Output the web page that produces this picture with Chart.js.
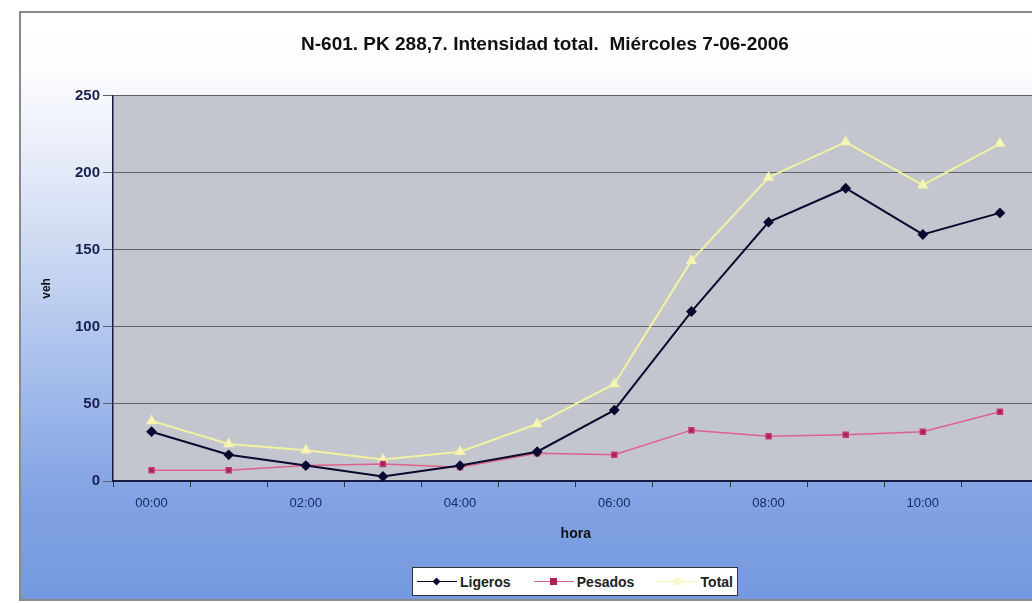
<!DOCTYPE html>
<html>
<head>
<meta charset="utf-8">
<script src="https://cdn.jsdelivr.net/npm/chart.js@4/dist/chart.umd.min.js"></script>
<style>
    html, body { margin: 0; padding: 0; background: #fff; overflow: hidden; width: 1032px; height: 603px; }
    #frame {
        position: absolute; left: 19px; top: 11px; width: 1040px; height: 586px;
        border: 2px solid #8a8a8a; border-right: none;
        background: linear-gradient(to bottom, #ffffff 0%, #fdfdff 10%, #d6e0f4 35%, #a9c0ec 60%, #82a3e4 82%, #7599e0 100%);
    }
    #chartWrap { position: absolute; left: 0; top: 0; width: 1045px; height: 603px; }
    #legend {
        position: absolute; left: 412px; top: 567px; width: 326px; height: 29px;
        background: #fff; border: 1px solid #333; box-sizing: border-box;
        font: bold 14px "Liberation Sans", Arial, sans-serif; color: #222;
        display: flex; align-items: center; justify-content: space-between; padding: 0 4px;
    }
    .item { display: flex; align-items: center; gap: 3px; }
    .sym { position: relative; width: 40px; height: 10px; }
    .sym .ln { position: absolute; left: 0; right: 0; top: 4px; height: 0; border-top: 1.5px solid; }
    .sym .mk { position: absolute; left: 16px; top: 1px; width: 7px; height: 7px; }
</style>
</head>
<body>
<div id="frame"></div>
<div id="chartWrap"><canvas id="chartIntensidad" width="1045" height="603"></canvas></div>
<div id="legend">
    <div class="item"><div class="sym"><div class="ln" style="border-color:#0a0a30"></div><div class="mk" style="background:#0a0a30;transform:rotate(45deg) scale(0.8)"></div></div>Ligeros</div>
    <div class="item"><div class="sym"><div class="ln" style="border-color:#e0608c"></div><div class="mk" style="background:#a8205a"></div></div>Pesados</div>
    <div class="item"><div class="sym"><div class="ln" style="border-color:#f6f6b0"></div><div class="mk" style="background:#fafac8"></div></div>Total</div>
</div>
<script>
// ===== Datos =====
const horas = ['00:00', '01:00', '02:00', '03:00', '04:00', '05:00', '06:00', '07:00', '08:00', '09:00', '10:00', '11:00'];
const ligeros = [32, 17, 10, 3, 10, 19, 46, 110, 168, 190, 160, 174];
const pesados = [7, 7, 10, 11, 9, 18, 17, 33, 29, 30, 32, 45];
const total = [39, 24, 20, 14, 19, 37, 63, 143, 197, 220, 192, 219];
const ticksY = [0, 50, 100, 150, 200, 250];

const fuente = '"Liberation Sans", Arial, sans-serif';

// fondo gris del area de trazado
const plotBg = {
    id: 'plotBg',
    beforeDraw(chart) {
        const a = chart.chartArea;
        const c = chart.ctx;
        c.save();
        c.fillStyle = '#c3c6ce';
        c.fillRect(a.left, a.top, a.right - a.left, a.bottom - a.top);
        c.restore();
    }
};

const ctx = document.getElementById('chartIntensidad');
new Chart(ctx, {
    type: 'line',
    data: {
        labels: horas,
        datasets: [
            {
                label: 'Ligeros', data: ligeros,
                borderColor: '#0a0a30', backgroundColor: '#0a0a30', borderWidth: 2,
                pointStyle: 'rectRot', pointRadius: 4, tension: 0
            },
            {
                label: 'Pesados', data: pesados,
                borderColor: '#e0608c', backgroundColor: '#a8205a', borderWidth: 1.5,
                pointStyle: 'rect', pointRadius: 3.5, pointBorderColor: '#c03a70', tension: 0
            },
            {
                label: 'Total', data: total,
                borderColor: '#f2f2a0', backgroundColor: '#f8f8b8', borderWidth: 2,
                pointStyle: 'triangle', pointRadius: 4.5, pointBorderColor: '#f4f4b0', tension: 0
            }
        ]
    },
    options: {
        responsive: false,
        animation: false,
        layout: { padding: { left: 45, right: 0, top: 33, bottom: 58 } },
        plugins: {
            legend: { display: false },
            tooltip: { enabled: false },
            title: {
                display: true,
                text: 'N-601. PK 288,7. Intensidad total.  Miércoles 7-06-2006',
                color: '#111',
                font: { family: fuente, size: 19, weight: 'bold' },
                padding: { top: 0, bottom: 40 }
            }
        },
        scales: {
            x: {
                offset: true,
                grid: { offset: true, drawOnChartArea: false, color: '#333', tickLength: 6 },
                border: { color: '#1a1a40', width: 2 },
                ticks: {
                    autoSkip: false, maxRotation: 0, color: '#1a2a60', padding: 9,
                    font: { family: fuente, size: 13 },
                    callback: function (v, i) { return i % 2 === 0 ? horas[i] : ''; }
                },
                title: {
                    display: true, text: 'hora', color: '#111',
                    font: { family: fuente, size: 14, weight: 'bold' },
                    padding: { top: 4, bottom: 2 }
                },
                afterFit(scale) { scale.height = 64; }
            },
            y: {
                min: 0, max: 250,
                afterBuildTicks(scale) { scale.ticks = ticksY.map(v => ({ value: v })); },
                grid: { color: '#5e6068', lineWidth: 1, tickLength: 10 },
                border: { color: '#1a1a40', width: 1.5 },
                ticks: {
                    color: '#1a2050', padding: 3,
                    font: { family: fuente, size: 15, weight: 'bold' }
                },
                title: {
                    display: true, text: 'veh', color: '#111',
                    font: { family: fuente, size: 12, weight: 'bold' },
                    padding: { top: -6, bottom: 0 }
                },
                afterFit(scale) { scale.width = 68; }
            }
        }
    },
    plugins: [plotBg]
});
</script>
</body>
</html>
